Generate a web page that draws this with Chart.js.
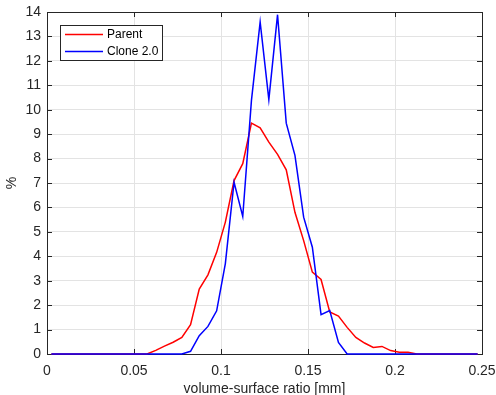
<!DOCTYPE html>
<html>
<head>
<meta charset="utf-8">
<script src="https://cdn.jsdelivr.net/npm/chart.js@4.4.0/dist/chart.umd.min.js"></script>
<style>
  html, body { margin: 0; padding: 0; background: #fff; }
  #wrap { width: 496px; height: 395px; }
</style>
</head>
<body>
<div id="wrap"><canvas id="chart" width="496" height="395"></canvas></div>
<script>
// bin centres (mm)
const binCenters = [
  0.0025, 0.0075, 0.0125, 0.0175, 0.0225, 0.0275, 0.0325, 0.0375, 0.0425, 0.0475,
  0.0525, 0.0575, 0.0625, 0.0675, 0.0725, 0.0775, 0.0825, 0.0875, 0.0925, 0.0975,
  0.1025, 0.1075, 0.1125, 0.1175, 0.1225, 0.1275, 0.1325, 0.1375, 0.1425, 0.1475,
  0.1525, 0.1575, 0.1625, 0.1675, 0.1725, 0.1775, 0.1825, 0.1875, 0.1925, 0.1975,
  0.2025, 0.2075, 0.2125, 0.2175, 0.2225, 0.2275, 0.2325, 0.2375, 0.2425, 0.2475
];
const parentPct = [
  0, 0, 0, 0, 0, 0, 0, 0, 0, 0,
  0, 0, 0.15, 0.32, 0.48, 0.68, 1.2, 2.66, 3.24, 4.16,
  5.4, 7.1, 7.79, 9.45, 9.26, 8.67, 8.17, 7.54, 5.8, 4.64,
  3.35, 3.05, 1.72, 1.55, 1.09, 0.68, 0.45, 0.27, 0.31, 0.14,
  0.07, 0.07, 0, 0, 0, 0, 0, 0, 0, 0
];
const clonePct = [
  0, 0, 0, 0, 0, 0, 0, 0, 0, 0,
  0, 0, 0, 0, 0, 0, 0.11, 0.75, 1.13, 1.77,
  3.7, 7.03, 5.63, 10.38, 13.59, 10.41, 13.89, 9.45, 8.13, 5.6,
  4.37, 1.61, 1.78, 0.47, 0, 0, 0, 0, 0, 0,
  0, 0, 0, 0, 0, 0, 0, 0, 0, 0
];
const seriesNames = ['Parent', 'Clone 2.0'];
const seriesColors = ['#ff0000', '#0000ff'];
const xTicks = [0, 0.05, 0.1, 0.15, 0.2, 0.25];

const axisColor = '#262626';
const FONT = 'Liberation Sans, Arial, Helvetica, sans-serif';

const toPoints = vals => binCenters.map((x, i) => ({ x: x, y: vals[i] }));

// box, inward ticks and legend, matlab style
const matlabFrame = {
  id: 'matlabFrame',
  beforeDatasetsDraw(chart) {
    const { ctx, chartArea: a, scales } = chart;
    ctx.save();
    ctx.strokeStyle = axisColor;
    ctx.lineWidth = 1;
    ctx.beginPath();
    scales.x.ticks.forEach(t => {
      const px = Math.round(scales.x.getPixelForValue(t.value)) + 0.5;
      ctx.moveTo(px, a.bottom); ctx.lineTo(px, a.bottom - 5);
      ctx.moveTo(px, a.top); ctx.lineTo(px, a.top + 5);
    });
    scales.y.ticks.forEach(t => {
      const py = Math.round(scales.y.getPixelForValue(t.value)) + 0.5;
      ctx.moveTo(a.left, py); ctx.lineTo(a.left + 5, py);
      ctx.moveTo(a.right, py); ctx.lineTo(a.right - 5, py);
    });
    ctx.stroke();
    ctx.strokeRect(Math.round(a.left) + 0.5, Math.round(a.top) + 0.5,
      Math.round(a.right - a.left), Math.round(a.bottom - a.top));
    ctx.restore();
  },
  afterDraw(chart) {
    const { ctx } = chart;
    const bx = 60.5, by = 25.5, bw = 102, bh = 35;
    ctx.save();
    ctx.fillStyle = '#fff';
    ctx.fillRect(bx, by, bw, bh);
    ctx.strokeStyle = axisColor;
    ctx.lineWidth = 1;
    ctx.strokeRect(bx, by, bw, bh);
    ctx.font = '12px ' + FONT;
    ctx.textBaseline = 'middle';
    ctx.fillStyle = '#000';
    seriesNames.forEach((name, i) => {
      const y = 34.5 + i * 17;
      ctx.strokeStyle = seriesColors[i];
      ctx.lineWidth = 1.5;
      ctx.beginPath();
      ctx.moveTo(65, y); ctx.lineTo(103, y);
      ctx.stroke();
      ctx.fillText(name, 107, y + 0.5);
    });
    ctx.restore();
  }
};

new Chart(document.getElementById('chart').getContext('2d'), {
  type: 'line',
  data: {
    datasets: [
      { label: seriesNames[0], data: toPoints(parentPct), borderColor: seriesColors[0],
        borderWidth: 1.5, pointRadius: 0, tension: 0, fill: false, clip: false, order: 1 },
      { label: seriesNames[1], data: toPoints(clonePct), borderColor: seriesColors[1],
        borderWidth: 1.5, pointRadius: 0, tension: 0, fill: false, clip: false, order: 0 }
    ]
  },
  options: {
    responsive: false,
    animation: false,
    layout: { padding: { top: 12, right: 14, left: 0, bottom: 0 } },
    plugins: { legend: { display: false }, tooltip: { enabled: false } },
    scales: {
      x: {
        type: 'linear', min: 0, max: 0.25,
        afterBuildTicks: s => { s.ticks = xTicks.map(v => ({ value: v })); },
        afterFit: s => { s.height = 41; s.paddingLeft = 0; s.paddingRight = 0; },
        ticks: { color: axisColor, font: { family: FONT, size: 14 }, padding: 9, maxRotation: 0,
          callback: v => String(v) },
        grid: { color: '#e3e3e3', drawTicks: false },
        border: { display: false },
        title: { display: true, text: 'volume-surface ratio [mm]', color: axisColor,
          font: { family: FONT, size: 14 }, padding: { top: 0, bottom: -3 } }
      },
      y: {
        min: 0, max: 14,
        afterFit: s => { s.width = 47; s.paddingTop = 0; s.paddingBottom = 0; },
        ticks: { stepSize: 1, color: axisColor, font: { family: FONT, size: 14 }, padding: 6 },
        grid: { color: '#e3e3e3', drawTicks: false },
        border: { display: false },
        title: { display: true, text: '%', color: axisColor,
          font: { family: FONT, size: 14 }, padding: { top: 4, bottom: 0 } }
      }
    }
  },
  plugins: [matlabFrame]
});
</script>
</body>
</html>
